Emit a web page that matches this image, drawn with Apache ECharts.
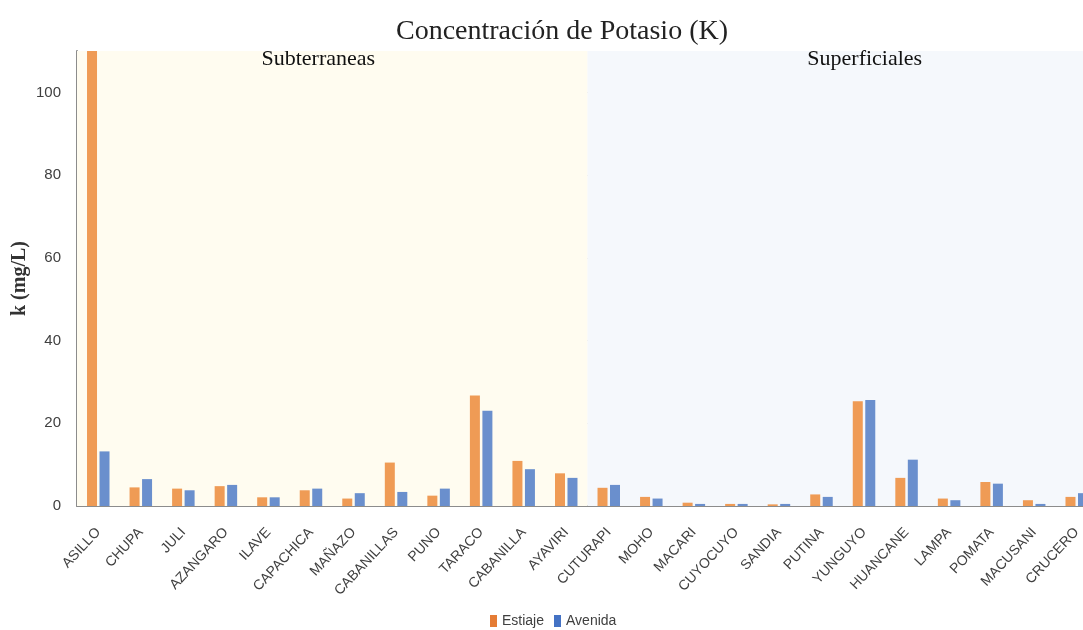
<!DOCTYPE html>
<html>
<head>
<meta charset="utf-8">
<script src="https://cdn.jsdelivr.net/npm/echarts@6/dist/echarts.min.js"></script>
<style>
  html, body { margin: 0; padding: 0; background: #fff; overflow: hidden; }
  #chart { width: 1083px; height: 630px; }
</style>
</head>
<body>
<div id="chart"></div>
<script>
const categories = ['ASILLO', 'CHUPA', 'JULI', 'AZANGARO', 'ILAVE', 'CAPACHICA', 'MAÑAZO', 'CABANILLAS',
  'PUNO', 'TARACO', 'CABANILLA', 'AYAVIRI', 'CUTURAPI', 'MOHO', 'MACARI', 'CUYOCUYO', 'SANDIA',
  'PUTINA', 'YUNGUYO', 'HUANCANE', 'LAMPA', 'POMATA', 'MACUSANI', 'CRUCERO']
// ASILLO estiaje goes past the top of the axis in the picture
const estiaje = [115, 4.5, 4.2, 4.8, 2.1, 3.8, 1.8, 10.5, 2.5, 26.7, 10.9, 7.9, 4.4, 2.2, 0.8, 0.5, 0.4,
  2.8, 25.3, 6.8, 1.8, 5.8, 1.4, 2.2]
const avenida = [13.2, 6.5, 3.8, 5.1, 2.1, 4.2, 3.1, 3.4, 4.2, 23.0, 8.9, 6.8, 5.1, 1.8, 0.5, 0.5, 0.5,
  2.2, 25.6, 11.2, 1.4, 5.4, 0.5, 3.1]
const groupNames = ['Subterraneas', 'Superficiales']
const groupSizes = [12, 12]
const yMin = 0
const yMax = 110
const yStep = 20

const bandColors = ['#fffcf0', '#f5f8fc']
const bandLabelOffsets = [[-14, -3], [22, -3]]

const chart = echarts.init(document.getElementById('chart'))

// background bands, built from the group sizes on a hidden 0..n value axis
let start = 0
const bands = groupNames.map((name, i) => {
  const from = start
  start += groupSizes[i]
  return [
    {
      name: name,
      xAxis: from,
      itemStyle: { color: bandColors[i] },
      label: { offset: bandLabelOffsets[i] }
    },
    { xAxis: start }
  ]
})

const option = {
  backgroundColor: '#ffffff',
  animation: false,
  title: {
    text: 'Concentración de Potasio (K)',
    left: 557,
    top: 13,
    textAlign: 'center',
    textStyle: { fontFamily: 'Liberation Serif', fontSize: 28, fontWeight: 'normal', color: '#222' }
  },
  legend: {
    data: [
      { name: 'Estiaje', itemStyle: { color: '#e57c35' } },
      { name: 'Avenida', itemStyle: { color: '#4472c4' } }
    ],
    left: 485,
    top: 609,
    icon: 'rect',
    itemWidth: 7,
    itemHeight: 12,
    itemGap: 10,
    textStyle: { fontFamily: 'Liberation Sans', fontSize: 14, color: '#404040' }
  },
  grid: { left: 77, right: -15, top: 51, bottom: 124, outerBoundsMode: 'none' },
  xAxis: [
    {
      type: 'category',
      data: categories,
      axisLine: { lineStyle: { color: '#8c8c8c', width: 2 } },
      axisTick: { show: false },
      axisLabel: {
        interval: 0,
        rotate: 47,
        margin: 24,
        fontFamily: 'Liberation Sans',
        fontSize: 14,
        color: '#404040'
      }
    },
    { type: 'value', min: 0, max: categories.length, show: false }
  ],
  yAxis: {
    type: 'value',
    min: yMin,
    max: yMax,
    interval: yStep,
    name: 'k (mg/L)',
    nameLocation: 'middle',
    nameGap: 47,
    nameMoveOverlap: false,
    nameTextStyle: { fontFamily: 'Liberation Serif', fontSize: 20, fontWeight: 'bold', color: '#333' },
    axisLine: { show: true, lineStyle: { color: '#8c8c8c', width: 2 } },
    axisTick: { show: false },
    axisLabel: {
      showMaxLabel: false,
      margin: 16,
      fontFamily: 'Liberation Sans',
      fontSize: 15,
      color: '#404040'
    },
    splitLine: { showMaxLine: false, lineStyle: { color: '#d9d9d9', width: 1 } }
  },
  series: [
    {
      name: 'groups',
      type: 'line',
      xAxisIndex: 1,
      data: [],
      silent: true,
      z: 0,
      markArea: {
        silent: true,
        label: {
          show: true,
          position: 'insideTop',
          distance: 0,
          fontFamily: 'Liberation Serif',
          fontSize: 22,
          color: '#111'
        },
        data: bands
      }
    },
    {
      name: 'Estiaje',
      type: 'bar',
      data: estiaje,
      barWidth: 10,
      barGap: '25%',
      clip: true,
      itemStyle: { color: '#ef9b55' }
    },
    {
      name: 'Avenida',
      type: 'bar',
      data: avenida,
      barWidth: 10,
      clip: true,
      itemStyle: { color: '#6a8fcd' }
    }
  ]
}

chart.setOption(option)
</script>
</body>
</html>
